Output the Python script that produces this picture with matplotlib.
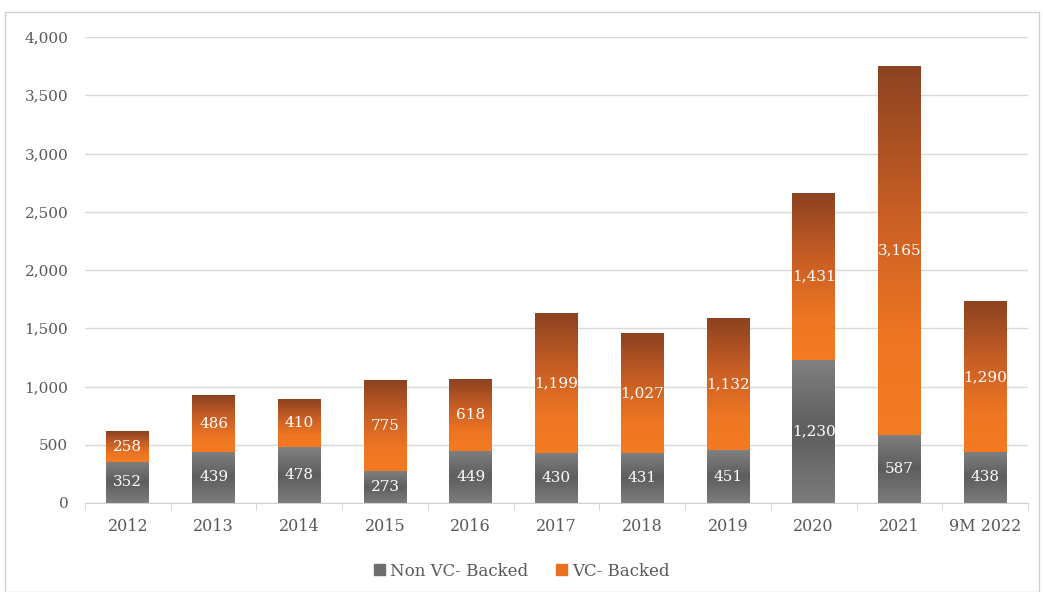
import numpy as np
import matplotlib
matplotlib.use("Agg")
import matplotlib.pyplot as plt
from matplotlib.colors import LinearSegmentedColormap
from matplotlib.patches import Rectangle

categories = ["2012", "2013", "2014", "2015", "2016", "2017", "2018", "2019",
              "2020", "2021", "9M 2022"]
non_vc = [352, 439, 478, 273, 449, 430, 431, 451, 1230, 587, 438]
vc = [258, 486, 410, 775, 618, 1199, 1027, 1132, 1431, 3165, 1290]
series_names = ["Non VC- Backed", "VC- Backed"]

plt.rcParams["font.family"] = ["DejaVu Serif"]

gray_cmap = LinearSegmentedColormap.from_list(
    "g", [(0, "#7c7c7c"), (0.5, "#5e5e5e"), (1, "#808080")])
orange_cmap = LinearSegmentedColormap.from_list(
    "o", [(0, "#f47a22"), (0.25, "#ef7622"), (0.6, "#c95f25"), (1, "#8c4220")])

fig = plt.figure(figsize=(10.43, 5.92), dpi=100)
ax = fig.add_axes([85 / 1043, 1 - 503 / 592, 943 / 1043, 466 / 592])

fig.patches.append(Rectangle((5 / 1043, 0), 1034 / 1043, 1 - 12 / 592,
                             transform=fig.transFigure, fill=False,
                             edgecolor="#d0d0d0", linewidth=1))

x = np.arange(len(categories))
w = 0.5
grad = np.linspace(0, 1, 256).reshape(-1, 1)


def gradient_bar(xc, bottom, height, cmap):
    img = ax.imshow(grad, cmap=cmap, origin="lower", aspect="auto",
                    extent=(xc - w / 2, xc + w / 2, bottom, bottom + height),
                    zorder=2, interpolation="bilinear")
    return img


for i in range(len(categories)):
    gradient_bar(x[i], 0, non_vc[i], gray_cmap)
    gradient_bar(x[i], non_vc[i], vc[i], orange_cmap)
    ax.text(x[i], non_vc[i] / 2, f"{non_vc[i]:,}", ha="center", va="center",
            color="white", fontsize=11, zorder=3)
    ax.text(x[i], non_vc[i] + vc[i] / 2, f"{vc[i]:,}", ha="center",
            va="center", color="white", fontsize=11, zorder=3)

ax.set_xlim(-0.5, len(categories) - 0.5)
ax.set_ylim(0, 4000)
ax.set_yticks(np.arange(0, 4001, 500))
ax.set_yticklabels([f"{v:,}" for v in range(0, 4001, 500)])
ax.yaxis.grid(True, color="#d9d9d9", linewidth=1)
ax.set_axisbelow(True)
ax.tick_params(axis="y", length=0, pad=12, labelsize=11, labelcolor="#595959")

ax.set_xticks(x)
ax.set_xticklabels(categories)
ax.set_xticks(np.arange(-0.5, len(categories), 1), minor=True)
ax.tick_params(axis="x", which="major", length=0, pad=11, labelsize=11.5,
               labelcolor="#595959")
ax.tick_params(axis="x", which="minor", length=5, color="#d0d0d0")

for s in ["top", "right", "left"]:
    ax.spines[s].set_visible(False)
ax.spines["bottom"].set_color("#d0d0d0")

handles = [Rectangle((0, 0), 1, 1, color="#6e6e6e"),
           Rectangle((0, 0), 1, 1, color="#e8701f")]
fig.legend(handles, series_names, loc="center", bbox_to_anchor=(0.5, 1 - 571 / 592),
           ncol=2, frameon=False, fontsize=12, handlelength=0.65,
           handleheight=0.65, handletextpad=0.3, columnspacing=1.7,
           labelcolor="#595959")

fig.savefig("out.png", dpi=100)
